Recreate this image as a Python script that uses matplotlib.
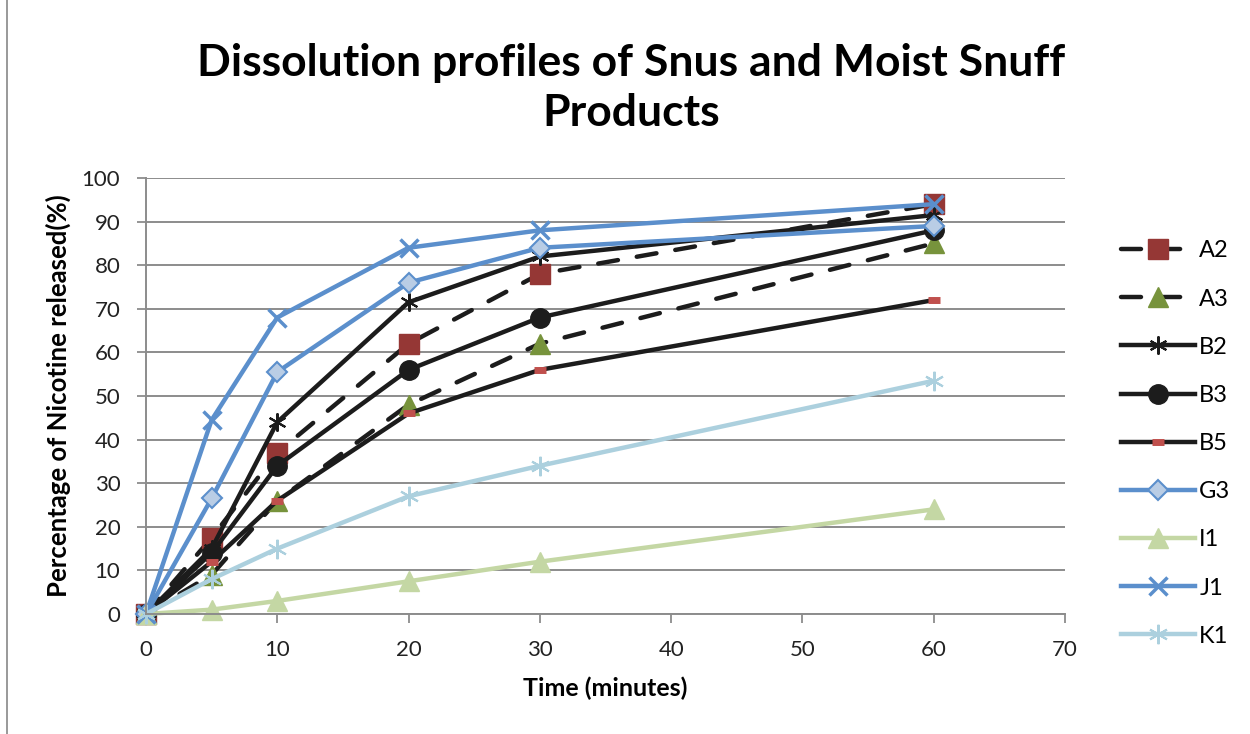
import numpy as np
import matplotlib.pyplot as plt
from matplotlib.lines import Line2D

# Data
time = [0, 5, 10, 20, 30, 60]
series = ["A2", "A3", "B2", "B3", "B5", "G3", "I1", "J1", "K1"]
a2 = [0, 17.5, 37, 62, 78, 94]
a3 = [0, 9, 26, 48, 62, 85]
b2 = [0, 15, 44, 71.5, 82, 91.5]
b3 = [0, 14, 34, 56, 68, 88]
b5 = [0, 12, 26, 46, 56, 72]
g3 = [0, 26.5, 55.5, 76, 84, 89]
i1 = [0, 1, 3, 7.5, 12, 24]
j1 = [0, 44.5, 68, 84, 88, 94]
k1 = [0, 8, 15, 27, 34, 53.5]
values = [a2, a3, b2, b3, b5, g3, i1, j1, k1]

black = "#1c1c1c"
blue = "#5B8FCC"
dash = (0, (4.5, 4.3))
styles = {
    "A2": dict(color=black, ls=dash, marker="s", ms=14, mfc="#953735", mec="#953735"),
    "A3": dict(color=black, ls=dash, marker="^", ms=14, mfc="#77933C", mec="#77933C"),
    "B2": dict(color=black, ls="-", marker=(6, 2, 0), ms=13, mfc=black, mec=black, mew=1.5),
    "B3": dict(color=black, ls="-", marker="o", ms=14, mfc=black, mec=black),
    "B5": dict(color=black, ls="-", marker="_", ms=8, mfc="#C0504D", mec="#C0504D", mew=5),
    "G3": dict(color=blue, ls="-", marker="D", ms=10, mfc="#B9CDE5", mec=blue, mew=1.5),
    "I1": dict(color="#C4D7A4", ls="-", marker="^", ms=15, mfc="#C4D7A4", mec="#C4D7A4"),
    "J1": dict(color=blue, ls="-", marker="x", ms=13, mfc=blue, mec=blue, mew=2.5),
    "K1": dict(color="#ACD0DE", ls="-", marker=(6, 2, 0), ms=14, mfc="#ACD0DE", mec="#ACD0DE", mew=1.5),
}

plt.rcParams['font.family'] = ['Lato', 'DejaVu Sans']

fig = plt.figure(figsize=(12.5, 7.34), dpi=100)
ax = fig.add_axes([146 / 1250, 1 - 614 / 734, (1065 - 146) / 1250, (614 - 178) / 734])

for name, vals in zip(series, values):
    st = styles[name]
    ax.plot(time, vals, color=st["color"], linestyle=st["ls"], linewidth=3.2,
            marker=st["marker"], markersize=st["ms"], markerfacecolor=st["mfc"],
            markeredgecolor=st["mec"], markeredgewidth=st.get("mew", 1),
            label=name, clip_on=False, dash_capstyle="round")

ax.set_xlim(0, 70)
ax.set_ylim(0, 100)
ax.set_xticks(range(0, 71, 10))
ax.set_yticks(range(0, 101, 10))
ax.tick_params(labelsize=16, labelcolor="#222222", length=6.5, width=1.3,
               color="#8c8c8c", pad=12)
ax.yaxis.grid(True, color="#8c8c8c", linewidth=1.4)
ax.set_axisbelow(True)
for s in ["top", "right"]:
    ax.spines[s].set_visible(False)
for s in ["left", "bottom"]:
    ax.spines[s].set_color("#8c8c8c")
    ax.spines[s].set_linewidth(1.4)

ax.set_xlabel("Time (minutes)", fontsize=18, fontweight="bold", labelpad=12)
ax.set_ylabel("Percentage of Nicotine released(%)", fontsize=18.5, fontweight="bold", labelpad=8)

fig.text(0.505, 0.941, "Dissolution profiles of Snus and Moist Snuff\nProducts",
         ha="center", va="top", fontsize=32, fontweight="bold", linespacing=1.3)

leg = fig.legend(loc="upper left", bbox_to_anchor=(1112 / 1250, 1 - 231 / 734),
                 frameon=False, fontsize=17, handlelength=3.1, labelspacing=1.15,
                 handletextpad=0.2, borderaxespad=0)

# Chart frame line on the left edge
fig.add_artist(Line2D([7 / 1250, 7 / 1250], [0, 1], color="#888888", linewidth=1.2))

fig.savefig("out.png", dpi=100)
